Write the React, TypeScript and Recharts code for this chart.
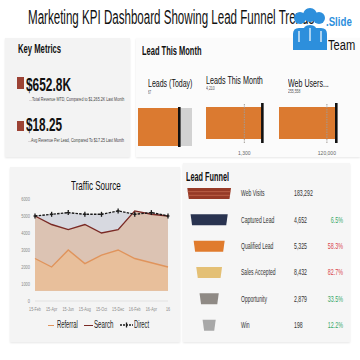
import React, { useLayoutEffect, useRef, useState } from 'react';
import {
  ComposedChart,
  Area,
  Line,
  XAxis,
  YAxis,
  BarChart,
  Bar,
  Cell,
  ReferenceLine
} from 'recharts';

// traffic source
const months = ['15-Feb', '15-Apr', '15-Jun', '15-Aug', '15-Oct', '15-Dec', '16-Feb', '16-Apr', '16'];
const referral = [2500, 2000, 3000, 2200, 2700, 3000, 2500, 2250, 2000];
const search = [5000, 4500, 4200, 4500, 4000, 4200, 5300, 5100, 5000];
const direct = [5000, 5100, 5200, 5100, 5100, 5300, 5100, 5200, 5000];
const trafficTicks = [0, 1000, 2000, 3000, 4000, 5000, 6000];

// lead funnel
const stages = ['Web Visits', 'Captured Lead', 'Qualified Lead', 'Sales Accepted', 'Opportunity', 'Win'];
const stageCounts = ['183,292', '4,652', '5,325', '8,432', '2,879', '198'];
const stageRates = [null, 6.5, 58.3, 82.7, 33.5, 12.2];
const funnelSpread = [100, 85, 71, 59, 44, 30];
const funnelColors = ['#963a27', '#293350', '#e07b2d', '#e4c075', '#8f8a85', '#a8a8a8'];

// lead this month (bullets, % of range)
const bulletTitles = ['Leads (Today)', 'Leads This Month', 'Web Users...'];
const bulletValues = ['67', '4,210', '255,558'];
const bulletFill = [75, 100, 100];
const bulletTarget = [76.5, 99.4, 99.3];
const bulletMark = [null, 67.6, 83];
const bulletMarkLabel = ['', '1,300', '120,000'];

const FONT = "'Liberation Sans', Arial, sans-serif";

const trafficData = months.map((m, i) => ({
  month: m,
  referral: referral[i],
  search: search[i],
  direct: direct[i]
}));

const funnelData = stages.map((s, i) => ({
  stage: s,
  range: [50 - funnelSpread[i] / 2, 50 + funnelSpread[i] / 2],
  idx: i
}));

function Fit({ x, base, size, width, bold, color = '#111', children }: any) {
  const ref = useRef<HTMLSpanElement>(null);
  const [k, setK] = useState(1);
  useLayoutEffect(() => {
    if (ref.current && ref.current.offsetWidth > 0) setK(width / ref.current.offsetWidth);
  }, [width, children]);
  return (
    <span
      ref={ref}
      style={{
        position: 'absolute',
        left: x,
        top: base - 0.85 * size,
        fontSize: size,
        lineHeight: 1,
        fontWeight: bold ? 700 : 400,
        color,
        whiteSpace: 'nowrap',
        transform: `scaleX(${k})`,
        transformOrigin: '0 0'
      }}
    >
      {children}
    </span>
  );
}

const panel = (left: number, top: number, width: number, height: number, bg: string): React.CSSProperties => ({
  position: 'absolute',
  left,
  top,
  width,
  height,
  background: bg,
  boxShadow: '0 1px 2px rgba(0,0,0,0.10)'
});

const PlusDot = (props: any) => {
  const { cx, cy } = props;
  if (cx == null || cy == null) return null;
  return (
    <g>
      <line x1={cx} y1={cy - 2.5} x2={cx} y2={cy + 2.5} stroke="#1a1a1a" strokeWidth={1.3} />
      <line x1={cx - 1.5} y1={cy} x2={cx + 1.5} y2={cy} stroke="#1a1a1a" strokeWidth={1.3} />
    </g>
  );
};

const MonthTick = ({ x, y, payload }: any) => (
  <text transform={`translate(${x},${y + 10}) scale(0.68,1)`} textAnchor="middle" fontSize={5.5} fill="#8a8a8a">
    {payload.value}
  </text>
);

const ValueTick = ({ x, y, payload }: any) => (
  <text transform={`translate(${x - 5},${y + 2}) scale(0.72,1)`} textAnchor="end" fontSize={5.5} fill="#8a8a8a">
    {payload.value}
  </text>
);

const Trapezoid = (props: any) => {
  const { x, y, width, height, fill, index } = props;
  const inset = 1.5;
  const pts = `${x},${y} ${x + width},${y} ${x + width - inset},${y + height} ${x + inset},${y + height}`;
  return (
    <g>
      <polygon points={pts} fill={fill} />
      {index === 0 && (
        <g stroke="#c46a4f" strokeWidth={0.8}>
          <line x1={x + 0.5} y1={y + height / 3} x2={x + width - 0.5} y2={y + height / 3} />
          <line x1={x + 1} y1={y + (2 * height) / 3} x2={x + width - 1} y2={y + (2 * height) / 3} />
        </g>
      )}
    </g>
  );
};

const StageTick = ({ x, y, payload, index }: any) => {
  const i = payload.index ?? index;
  const rate = stageRates[i];
  return (
    <g fontSize={8.4} fill="#333">
      <text transform={`translate(${x + 10},${y + 3}) scale(0.6,1)`}>{payload.value}</text>
      <text transform={`translate(${x + 63},${y + 3}) scale(0.62,1)`}>{stageCounts[i]}</text>
      {rate != null && (
        <text
          transform={`translate(${x + 112},${y + 3}) scale(0.64,1)`}
          textAnchor="end"
          fill={rate > 50 ? '#d9464b' : '#36a868'}
        >
          {rate}%
        </text>
      )}
    </g>
  );
};

function Bullet({ i, left, top, width, plotW }: any) {
  const data = [{ name: bulletTitles[i], value: bulletFill[i] }];
  return (
    <div style={{ position: 'absolute', left, top }}>
      <BarChart
        width={width}
        height={60}
        layout="vertical"
        data={data}
        margin={{ top: 0, right: width - plotW, left: 0, bottom: 20 }}
        barCategoryGap={0}
      >
        <XAxis type="number" domain={[0, 100]} hide />
        <YAxis type="category" dataKey="name" hide />
        <Bar
          dataKey="value"
          fill="#db7a30"
          barSize={i === 0 ? 38 : 32}
          background={i === 0 ? { fill: '#d2d2d2' } : false}
          isAnimationActive={false}
        />
        {bulletMark[i] != null && (
          <ReferenceLine
            x={bulletMark[i] as number}
            stroke="#a09a94"
            strokeDasharray="1.5 1"
            strokeWidth={1}
            label={{ value: bulletMarkLabel[i], position: 'bottom', offset: 8, fontSize: 5, fill: '#666' }}
          />
        )}
        <ReferenceLine x={bulletTarget[i]} stroke="#111" strokeWidth={2.6} />
      </BarChart>
    </div>
  );
}

function Logo() {
  const blue = '#2d8fdc';
  return (
    <svg width={40} height={50} style={{ position: 'absolute', left: 290, top: 4 }}>
      {[
        [10, 14, 6],
        [20, 11, 7],
        [29, 14, 6]
      ].map(([cx, cy, r], k) => (
        <circle key={`h${k}`} cx={cx} cy={cy} r={r} fill={blue} />
      ))}
      <path d="M3,46 L3,30 Q3,24 9,24 L15,24 L15,46 Z" fill={blue} />
      <path d="M13,46 L13,28 Q13,21 20,21 Q27,21 27,28 L27,46 Z" fill={blue} />
      <path d="M25,46 L25,24 L31,24 Q37,24 37,30 L37,46 Z" fill={blue} />
      <g stroke="#fff" strokeWidth={1.2}>
        <line x1={9} y1={27} x2={9} y2={38} />
        <line x1={20} y1={24} x2={20} y2={37} />
        <line x1={31} y1={27} x2={31} y2={38} />
      </g>
    </svg>
  );
}

export default function App() {
  return (
    <div
      style={{
        position: 'absolute',
        left: 0,
        top: 0,
        width: 360,
        height: 360,
        background: '#fff',
        overflow: 'hidden',
        fontFamily: FONT
      }}
    >
      <div style={panel(5, 38, 125, 119, '#f3f3f3')} />
      <div style={panel(136, 38, 224, 119, '#fbfbfb')} />
      <div style={panel(10, 167, 170, 175, '#f4f4f4')} />
      <div style={panel(183, 163, 167, 179, '#f6f6f6')} />

      <Fit x={28} base={25} size={19.5} width={286}>
        Marketing KPI Dashboard Showing Lead Funnel Trends
      </Fit>
      <Logo />
      <Fit x={326} base={26} size={13} width={26} bold color="#2d8fdc">.Slide</Fit>
      <Fit x={328} base={50} size={14} width={27} color="#111">Team</Fit>

      {/* key metrics */}
      <Fit x={18} base={54} size={12.5} width={43} bold>Key Metrics</Fit>
      <div style={{ position: 'absolute', left: 17, top: 77, width: 7, height: 12, background: '#9c4234' }} />
      <Fit x={26} base={91} size={18} width={45} bold>$652.8K</Fit>
      <Fit x={29} base={101.5} size={4.5} width={95} color="#444">
        ...Total Revenue MTD, Compared to $1,265.2K Last Month
      </Fit>
      <div style={{ position: 'absolute', left: 17, top: 121, width: 7, height: 10, background: '#9c4234' }} />
      <Fit x={26} base={131.3} size={18} width={36} bold>$18.25</Fit>
      <Fit x={28} base={143} size={4.5} width={96} color="#444">
        ...Avg Revenue Per Lead, Compared To $17.25 Last Month
      </Fit>

      {/* lead this month */}
      <Fit x={141.7} base={55.3} size={12.5} width={59.3} bold>Lead This Month</Fit>
      <Fit x={147.7} base={87} size={11} width={44.6}>{bulletTitles[0]}</Fit>
      <Fit x={147.7} base={94.7} size={5} width={3.5} color="#555">{bulletValues[0]}</Fit>
      <Fit x={206} base={84.7} size={11} width={56.7}>{bulletTitles[1]}</Fit>
      <Fit x={206} base={90.7} size={5} width={9} color="#555">{bulletValues[1]}</Fit>
      <Fit x={287.7} base={87} size={11} width={40.6}>{bulletTitles[2]}</Fit>
      <Fit x={287.7} base={93.7} size={5} width={12.3} color="#555">{bulletValues[2]}</Fit>
      <Bullet i={0} left={138} top={107} width={54} plotW={54} />
      <Bullet i={1} left={206} top={103} width={60} plotW={56.7} />
      <Bullet i={2} left={279} top={103} width={61} plotW={57.7} />

      {/* traffic source */}
      <Fit x={71} base={190.5} size={13} width={49.7}>Traffic Source</Fit>
      <div style={{ position: 'absolute', left: 0, top: 190 }}>
        <ComposedChart
          width={180}
          height={125}
          data={trafficData}
          margin={{ top: 9, right: 12, left: 0, bottom: 0 }}
        >
          <XAxis
            dataKey="month"
            scale="point"
            interval={0}
            height={14}
            tick={<MonthTick />}
            tickSize={0}
            tickMargin={0}
            tickLine={false}
            axisLine={{ stroke: '#e2e2e2' }}
          />
          <YAxis
            domain={[0, 6000]}
            ticks={trafficTicks}
            interval={0}
            width={35}
            tick={<ValueTick />}
            tickSize={0}
            tickMargin={0}
            tickLine={false}
            axisLine={false}
          />
          <Area type="linear" dataKey="direct" baseValue={600} fill="#d7d9e0" fillOpacity={1} stroke="none" isAnimationActive={false} />
          <Area type="linear" dataKey="search" baseValue={600} fill="#dcc3b3" fillOpacity={1} stroke="#7a2a25" strokeWidth={1.4} isAnimationActive={false} />
          <Area type="linear" dataKey="referral" baseValue={600} fill="#e8bf9b" fillOpacity={1} stroke="#e0945c" strokeWidth={1.4} isAnimationActive={false} />
          <Line type="linear" dataKey="direct" stroke="#1a1a1a" strokeWidth={1.4} strokeDasharray="2.5 1.2" dot={<PlusDot />} isAnimationActive={false} />
        </ComposedChart>
      </div>
      {/* legend */}
      <div style={{ position: 'absolute', left: 47.7, top: 324.5, width: 6.6, height: 1.5, background: '#e0945c' }} />
      <Fit x={56.7} base={328.5} size={10} width={21} color="#222">Referral</Fit>
      <div style={{ position: 'absolute', left: 84, top: 324.5, width: 9.3, height: 1.5, background: '#7a2a25' }} />
      <Fit x={94.3} base={328.5} size={10} width={19.7} color="#222">Search</Fit>
      <svg width={14} height={8} style={{ position: 'absolute', left: 120, top: 321 }}>
        <line x1={0} y1={4} x2={13} y2={4} stroke="#1a1a1a" strokeWidth={1.3} strokeDasharray="2 1" />
        <line x1={6.5} y1={1.5} x2={6.5} y2={6.5} stroke="#1a1a1a" strokeWidth={1.3} />
      </svg>
      <Fit x={134} base={328.5} size={10} width={15} color="#222">Direct</Fit>

      {/* lead funnel */}
      <Fit x={186} base={181.5} size={13.5} width={43.3} bold>Lead Funnel</Fit>
      <div style={{ position: 'absolute', left: 183, top: 180 }}>
        <BarChart
          width={177}
          height={158}
          layout="vertical"
          data={funnelData}
          margin={{ top: 0, right: 0, left: 4.3, bottom: 0 }}
        >
          <XAxis type="number" domain={[0, 100]} hide />
          <YAxis
            type="category"
            dataKey="stage"
            orientation="right"
            width={129}
            axisLine={false}
            tickLine={false}
            tickSize={0}
            tickMargin={0}
            tick={<StageTick />}
          />
          <Bar dataKey="range" barSize={11} shape={<Trapezoid />} isAnimationActive={false}>
            {funnelData.map((d, i) => (
              <Cell key={`f-${i}`} fill={funnelColors[i]} />
            ))}
          </Bar>
        </BarChart>
      </div>
    </div>
  );
}
